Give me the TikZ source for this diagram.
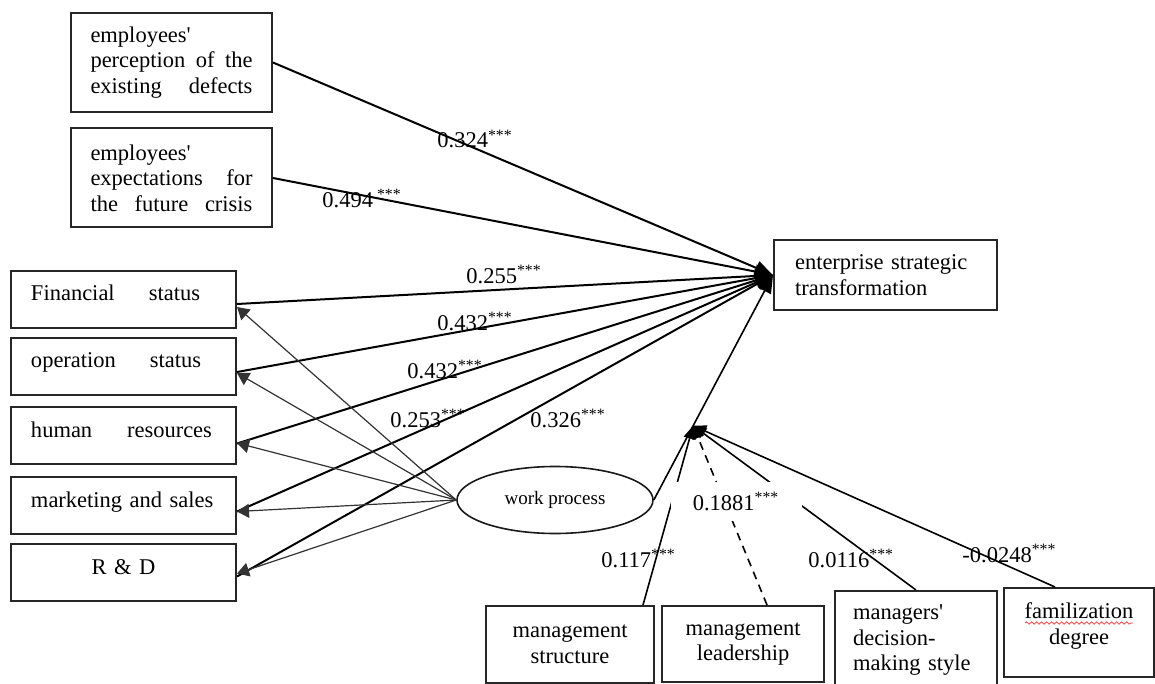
\documentclass[tikz,border=0pt]{standalone}
\usepackage{fontspec}
\setmainfont{Liberation Serif}
\usetikzlibrary{arrows.meta,calc,shapes.geometric,decorations.pathmorphing}
\newcommand{\diagfont}{\fontsize{11.25}{12.75}\selectfont}
\newcommand{\stars}{\textsuperscript{***}}

\begin{document}
\begin{tikzpicture}[x=5pt, y=5pt,
  topbox/.style={draw=black!85, line width=1pt, minimum width=100.5pt, minimum height=49.5pt, align=left, font=\diagfont},
  sidebox/.style={draw=black!85, line width=1pt, minimum height=28.5pt, text width=92.5pt, inner xsep=10pt, inner ysep=0pt, align=left, text height=7.5pt, text depth=6pt, font=\diagfont},
  goalbox/.style={draw=black!85, line width=1pt, minimum height=35pt, text width=90.5pt, inner xsep=10.5pt, inner ysep=0pt, align=left, font=\diagfont},
  basebox/.style={draw=black!85, line width=1pt, align=center, font=\diagfont},
  wpshape/.style={ellipse, draw=black!90, line width=0.8pt, minimum width=98pt, minimum height=33.5pt, font=\fontsize{9.5}{11}\selectfont},
  patharrow/.style={black, line width=1pt, -{Triangle[length=9pt,width=7pt]}},
  subarrow/.style={black!80, line width=0.6pt, -{Triangle[length=6pt,width=7pt]}},
  modarrow/.style={black, line width=0.8pt, -{Triangle[length=6.5pt,width=6pt]}},
  coef/.style={anchor=base west, font=\diagfont}]
\tikzstyle{every node}+=[inner sep=0pt]
\useasboundingbox (0,0) rectangle (115.5,-68.4);
% boxes
\node [topbox] (pA) at (17.15,-6.25) {employees\textquotesingle\\\makebox[81pt][s]{perception\hfill of\hfill the}\\\makebox[81pt][s]{existing\hfill defects}};
\node [topbox] (pB) at (17.15,-17.8) {employees\textquotesingle\\\makebox[81pt][s]{expectations\hfill for}\\\makebox[81pt][s]{the\hfill future\hfill crisis}};
\node [sidebox] (fin) at (12.35,-29.9) {\makebox[84.5pt][s]{Financial\hfill status}};
\node [sidebox] (op) at (12.35,-36.6) {\makebox[85pt][s]{operation\hfill status}};
\node [sidebox] (hr) at (12.35,-43.55) {\makebox[90.5pt][s]{human\hfill resources}};
\node [sidebox] (mkt) at (12.35,-50.55) {marketing and sales};
\node [sidebox, align=center] (rd) at (12.35,-57.25) {R \& D};
\node [goalbox] (tgt) at (88.55,-27.5) {enterprise strategic\\transformation};
\node [wpshape] (wp) at (55.5,-50.0) {work process};
\node [basebox, minimum width=84pt, minimum height=38.5pt] (mgs) at (57.0,-64.45) {management\\structure};
\node [basebox, minimum width=81pt, minimum height=38pt] (mgl) at (74.3,-64.4) {management\\leadership};
\node [basebox, align=left, text width=63pt, inner xsep=9pt, minimum height=49.5pt] (mgd) at (91.6,-64.05) {managers\textquotesingle\\decision-\\making style};
\node [basebox, minimum width=75pt, minimum height=44.5pt] (fam) at (107.9,-63.25) {familization\\degree\\[-4pt]\mbox{}};
\coordinate (mod) at ($(wp.east)!0.33!(tgt.west)$);
% paths into the transformation
\draw [patharrow] (pA.east) -- (tgt.west);
\draw [patharrow] (pB.east) -- (tgt.west);
\draw [patharrow] ([yshift=-2.5pt]fin.east) -- (tgt.west);
\draw [patharrow] ([yshift=-3pt]op.east) -- (tgt.west);
\draw [patharrow] ([yshift=-4pt]hr.east) -- (tgt.west);
\draw [patharrow] ([yshift=-3pt]mkt.east) -- (tgt.west);
\draw [patharrow] ([yshift=-2pt]rd.east) -- (tgt.west);
\draw [patharrow, line width=0.8pt] (wp.east) -- (tgt.west);
% work process to the five statuses
\draw [subarrow] (wp.west) -- ([yshift=-4pt]fin.east);
\draw [subarrow] (wp.west) -- ([yshift=-3.5pt]op.east);
\draw [subarrow] (wp.west) -- ([yshift=-3.75pt]hr.east);
\draw [subarrow] (wp.west) -- ([yshift=-3pt]mkt.east);
\draw [subarrow] (wp.west) -- ([yshift=-0.5pt]rd.east);
% moderators
\draw [modarrow] ([xshift=36.5pt]mgs.north) -- (mod);
\draw [modarrow, dash pattern=on 4pt off 3pt] ([xshift=12pt]mgl.north) -- (mod);
\draw [modarrow] (mgd.north) -- (mod);
\draw [modarrow] ([xshift=-12pt]fam.north) -- (mod);
% coefficients
\node [coef] (cA) at (43.7,-14.8) {0.324\stars};
\node [coef] (cB) at (32.2,-20.7) {0.494\kern2pt\stars};
\node [coef] (cfin) at (46.6,-28.3) {0.255\stars};
\node [coef] (cop) at (43.7,-33.0) {0.432\stars};
\node [coef] (chr) at (40.7,-37.8) {0.432\stars};
\node [coef] (cmkt) at (39.0,-42.7) {0.253\stars};
\node [coef] (cwp) at (53.0,-42.7) {0.326\stars};
\node [coef, anchor=center, fill=white, minimum width=65.5pt, minimum height=19.5pt] (cmgl) at (73.6,-50.15) {0.1881\stars};
\node [coef] (cmgs) at (60.1,-56.7) {0.117\stars};
\node [coef] (cmgd) at (80.8,-56.7) {0.0116\stars};
\node [coef] (cfam) at (96.2,-56.2) {-0.0248\stars};
\draw [red!75, line width=0.4pt, decorate, decoration={snake, amplitude=0.6pt, segment length=2.5pt}] ([xshift=-27pt,yshift=4.75pt]fam.center) -- ([xshift=27pt,yshift=4.75pt]fam.center);
\end{tikzpicture}
\end{document}
